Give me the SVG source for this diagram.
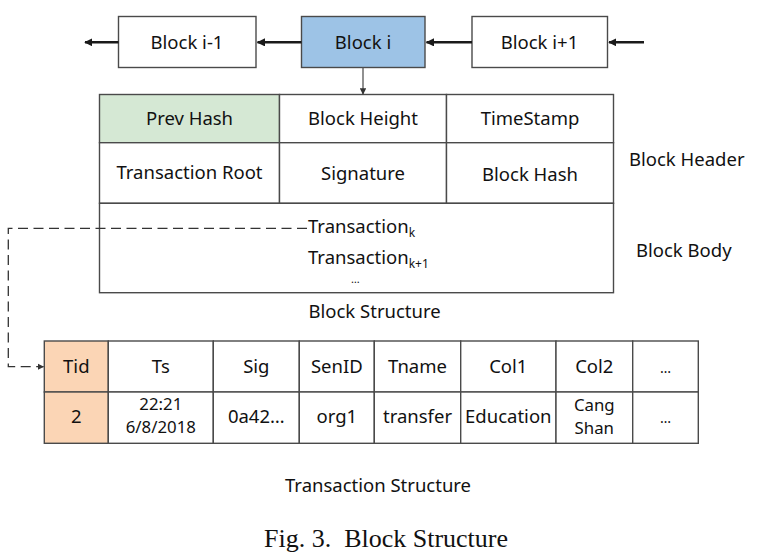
<svg xmlns="http://www.w3.org/2000/svg" width="764" height="558" viewBox="0 0 764 558">
  <style>
    .t { font-family: "Noto Sans", "Open Sans", "DejaVu Sans", sans-serif; font-size: 18.5px; fill: #111; }
    .c { text-anchor: middle; }
    .sub { font-size: 12px; }
    .dots { font-size: 14px; }
    .two { font-size: 16.8px; }
    .box { stroke: #4a4a4a; stroke-width: 1.4; }
    .thick { stroke: #1a1a1a; stroke-width: 2.6; fill: none; }
    .cap { font-family: "Liberation Serif", "Times New Roman", serif; font-size: 26px; fill: #111; }
  </style>
  <defs>
    <marker id="ah" viewBox="0 0 10 10" refX="9" refY="5" markerWidth="3.2" markerHeight="3.2" orient="auto" markerUnits="strokeWidth">
      <path d="M0,0 L10,5 L0,10 Z" fill="#1a1a1a"/>
    </marker>
    <marker id="ahs" viewBox="0 0 10 10" refX="9" refY="5" markerWidth="5" markerHeight="5" orient="auto" markerUnits="strokeWidth">
      <path d="M0,0 L10,5 L0,10 Z" fill="#333"/>
    </marker>
  </defs>
  <rect width="764" height="558" fill="#ffffff"/>

  <!-- chain blocks -->
  <g id="block-im1">
    <rect class="box" x="118.5" y="16.5" width="137.5" height="51" fill="#ffffff"/>
    <text class="t c" x="187" y="48.5">Block i-1</text>
  </g>
  <g id="block-i">
    <rect class="box" x="301.5" y="16.5" width="123.5" height="51" fill="#9dc3e6"/>
    <text class="t c" x="363" y="48.5">Block i</text>
  </g>
  <g id="block-ip1">
    <rect class="box" x="472" y="16.5" width="135.5" height="51" fill="#ffffff"/>
    <text class="t c" x="539.5" y="48.5">Block i+1</text>
  </g>

  <!-- block structure: header -->
  <g id="block-header">
    <rect class="box" x="99.5" y="94.5" width="180" height="48.2" fill="#d5e8d4"/>
    <rect class="box" x="279.5" y="94.5" width="167" height="48.2" fill="#ffffff"/>
    <rect class="box" x="446.5" y="94.5" width="167" height="48.2" fill="#ffffff"/>
    <rect class="box" x="99.5" y="142.7" width="180" height="60.6" fill="#ffffff"/>
    <rect class="box" x="279.5" y="142.7" width="167" height="60.6" fill="#ffffff"/>
    <rect class="box" x="446.5" y="142.7" width="167" height="60.6" fill="#ffffff"/>
    <text class="t c" x="189.5" y="125">Prev Hash</text>
    <text class="t c" x="363" y="125">Block Height</text>
    <text class="t c" x="530" y="125">TimeStamp</text>
    <text class="t c" x="189.5" y="179">Transaction Root</text>
    <text class="t c" x="363" y="179.5">Signature</text>
    <text class="t c" x="530" y="180.5">Block Hash</text>
  </g>
  <g id="block-body">
    <rect class="box" x="99.5" y="203.3" width="514" height="89.4" fill="#ffffff"/>
    <text class="t" x="308" y="233.3">Transaction<tspan class="sub" dy="4">k</tspan></text>
    <text class="t" x="308" y="264">Transaction<tspan class="sub" dy="4">k+1</tspan></text>
    <text class="t" x="351" y="283" style="font-size:11px">…</text>
  </g>
  <g id="labels">
    <text class="t" x="629" y="166">Block Header</text>
    <text class="t" x="636" y="256.7">Block Body</text>
    <text class="t" x="308.5" y="318.3">Block Structure</text>
    <text class="t" x="285" y="491.7">Transaction Structure</text>
    <text class="cap c" x="386" y="547.3" xml:space="preserve">Fig. 3.  Block Structure</text>
  </g>

  <!-- transaction structure table -->
  <g id="transaction-table">
    <rect class="box" x="44.3" y="341" width="64" height="51" fill="#fbd5b5"/>
    <rect class="box" x="44.3" y="392" width="64" height="51.3" fill="#fbd5b5"/>
    <rect class="box" x="108.3" y="341" width="105" height="51" fill="#ffffff"/>
    <rect class="box" x="108.3" y="392" width="105" height="51.3" fill="#ffffff"/>
    <rect class="box" x="213.3" y="341" width="86" height="51" fill="#ffffff"/>
    <rect class="box" x="213.3" y="392" width="86" height="51.3" fill="#ffffff"/>
    <rect class="box" x="299.3" y="341" width="75" height="51" fill="#ffffff"/>
    <rect class="box" x="299.3" y="392" width="75" height="51.3" fill="#ffffff"/>
    <rect class="box" x="374.3" y="341" width="86.4" height="51" fill="#ffffff"/>
    <rect class="box" x="374.3" y="392" width="86.4" height="51.3" fill="#ffffff"/>
    <rect class="box" x="460.7" y="341" width="95.3" height="51" fill="#ffffff"/>
    <rect class="box" x="460.7" y="392" width="95.3" height="51.3" fill="#ffffff"/>
    <rect class="box" x="556" y="341" width="76.7" height="51" fill="#ffffff"/>
    <rect class="box" x="556" y="392" width="76.7" height="51.3" fill="#ffffff"/>
    <rect class="box" x="632.7" y="341" width="65.6" height="51" fill="#ffffff"/>
    <rect class="box" x="632.7" y="392" width="65.6" height="51.3" fill="#ffffff"/>

    <text class="t c" x="76.3" y="373">Tid</text>
    <text class="t c" x="160.8" y="373">Ts</text>
    <text class="t c" x="256.3" y="373">Sig</text>
    <text class="t c" x="336.8" y="373">SenID</text>
    <text class="t c" x="417.5" y="373">Tname</text>
    <text class="t c" x="508.3" y="373">Col1</text>
    <text class="t c" x="594.3" y="373">Col2</text>
    <text class="t c dots" x="665.5" y="373">…</text>

    <text class="t c" x="76.3" y="423">2</text>
    <text class="t c two" x="160.8" y="410">22:21</text>
    <text class="t c two" x="160.8" y="433">6/8/2018</text>
    <text class="t c" x="256.3" y="423">0a42…</text>
    <text class="t c" x="336.8" y="423">org1</text>
    <text class="t c" x="417.5" y="423">transfer</text>
    <text class="t c" x="508.3" y="423">Education</text>
    <text class="t c two" x="594.3" y="410.5">Cang</text>
    <text class="t c two" x="594.3" y="433.5">Shan</text>
    <text class="t c dots" x="665.5" y="423">…</text>
  </g>

  <!-- connectors -->
  <g id="connectors">
    <line class="thick" x1="118.5" y1="42.3" x2="85" y2="42.3" marker-end="url(#ah)"/>
    <line class="thick" x1="301.5" y1="42.3" x2="257.5" y2="42.3" marker-end="url(#ah)"/>
    <line class="thick" x1="472" y1="42.3" x2="426.5" y2="42.3" marker-end="url(#ah)"/>
    <line class="thick" x1="644" y1="42.3" x2="609" y2="42.3" marker-end="url(#ah)"/>
    <line x1="363" y1="67.5" x2="363" y2="94" stroke="#555" stroke-width="1.3" marker-end="url(#ahs)"/>
    <polyline points="307,228.3 8.3,228.3 8.3,366.7 43.5,366.7" fill="none" stroke="#333" stroke-width="1.3" stroke-dasharray="10,5.5" marker-end="url(#ahs)"/>
  </g>
</svg>
